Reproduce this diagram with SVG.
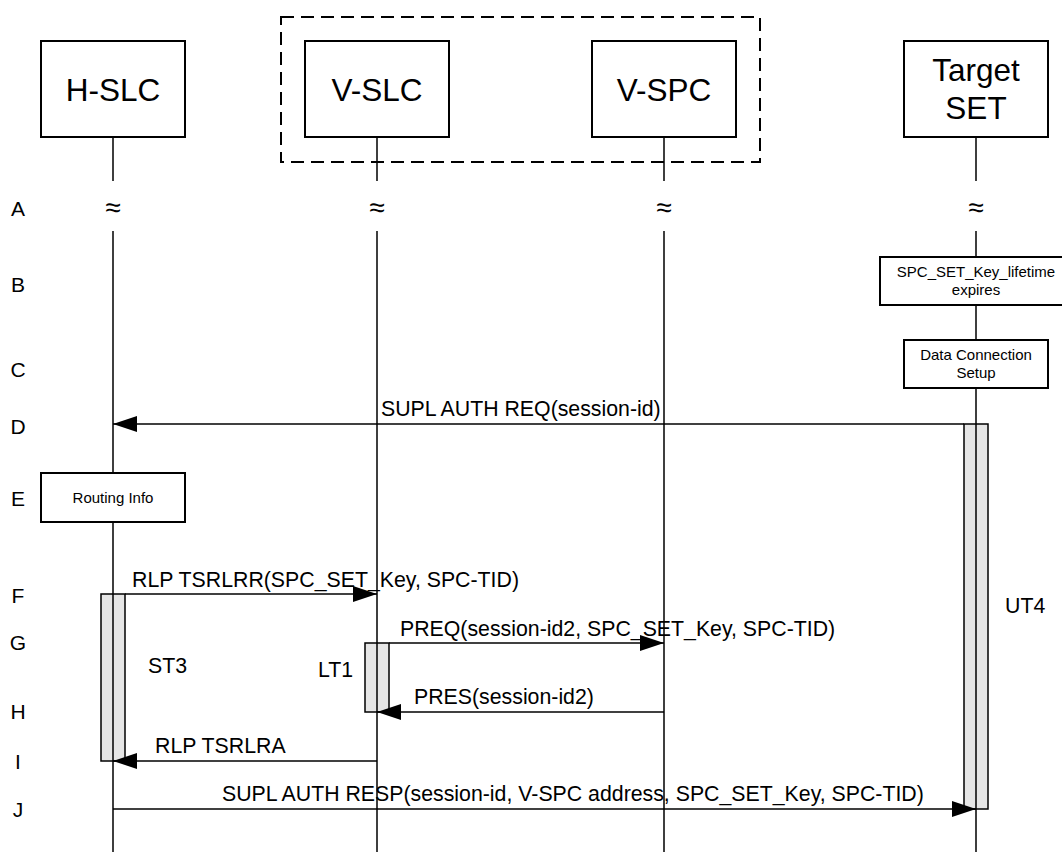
<svg xmlns="http://www.w3.org/2000/svg" width="1062" height="852" viewBox="0 0 1062 852">
<style>
text{font-family:"Liberation Sans",Arial,sans-serif;fill:#000}
.title{font-size:31.5px;text-anchor:middle}
.row{font-size:21px;text-anchor:middle}
.msg{font-size:21.3px}
.small{font-size:15px;text-anchor:middle}
.approx{font-size:28px;text-anchor:middle}
.box{fill:#fff;stroke:#000;stroke-width:2}
.life{stroke:#000;stroke-width:1.5;fill:none}
.bar{fill:#e6e6e6;stroke:#000;stroke-width:1.5}
.arrow{stroke:#000;stroke-width:1.5;fill:none;marker-end:url(#ah)}
</style>
<defs>
<marker id="ah" markerUnits="userSpaceOnUse" markerWidth="24" markerHeight="16" refX="24" refY="8" orient="auto">
<path d="M0,0 L24,8 L0,16 Z" fill="#000"/>
</marker>
</defs>
<rect width="1062" height="852" fill="#fff"/>
<rect x="281" y="17" width="479" height="145" fill="none" stroke="#000" stroke-width="2" stroke-dasharray="13 7"/>
<g id="lifelines">
<path class="life" d="M113,137 V181 M113,231 V473 M113,522 V852"/>
<path class="life" d="M377,137 V181 M377,231 V852"/>
<path class="life" d="M664,137 V181 M664,231 V852"/>
<path class="life" d="M976,137 V181 M976,231 V257 M976,305 V340 M976,388 V852"/>
</g>
<g id="node-hslc"><rect class="box" x="41" y="41" width="144" height="96"/><text class="title" x="113" y="101">H-SLC</text></g>
<g id="node-vslc"><rect class="box" x="305" y="41" width="144" height="96"/><text class="title" x="377" y="101">V-SLC</text></g>
<g id="node-vspc"><rect class="box" x="592" y="41" width="144" height="96"/><text class="title" x="664" y="101">V-SPC</text></g>
<g id="node-target"><rect class="box" x="904" y="41" width="144" height="96"/><text class="title" x="976" y="81">Target</text><text class="title" x="976" y="119">SET</text></g>
<g id="approx">
<text class="approx" x="113" y="217">≈</text>
<text class="approx" x="377" y="217">≈</text>
<text class="approx" x="664" y="217">≈</text>
<text class="approx" x="976" y="217">≈</text>
</g>
<g id="rows">
<text class="row" x="18" y="216">A</text>
<text class="row" x="18" y="292">B</text>
<text class="row" x="18" y="377">C</text>
<text class="row" x="18" y="434">D</text>
<text class="row" x="18" y="506">E</text>
<text class="row" x="18" y="603">F</text>
<text class="row" x="18" y="650">G</text>
<text class="row" x="18" y="719">H</text>
<text class="row" x="18" y="769">I</text>
<text class="row" x="18" y="817">J</text>
</g>
<g id="node-keyexpire"><rect class="box" x="880" y="257" width="192" height="48"/><text class="small" x="976" y="277">SPC_SET_Key_lifetime</text><text class="small" x="976" y="295">expires</text></g>
<g id="node-dataconn"><rect class="box" x="904" y="340" width="144" height="48"/><text class="small" x="976" y="360">Data Connection</text><text class="small" x="976" y="378">Setup</text></g>
<g id="node-routing"><rect class="box" x="41" y="473" width="144" height="49"/><text class="small" x="113" y="503">Routing Info</text></g>
<g id="bars">
<rect class="bar" x="964" y="424" width="24" height="385"/>
<rect class="bar" x="101" y="594" width="24" height="167"/>
<rect class="bar" x="365" y="643" width="24" height="69"/>
<path class="life" d="M976,424 V809 M113,594 V761 M377,643 V712"/>
</g>
<g id="connectors">
<line class="arrow" x1="964" y1="424" x2="113" y2="424"/>
<line class="arrow" x1="125" y1="594" x2="377" y2="594"/>
<line class="arrow" x1="389" y1="643" x2="664" y2="643"/>
<line class="arrow" x1="664" y1="712" x2="377" y2="712"/>
<line class="arrow" x1="377" y1="761" x2="113" y2="761"/>
<line class="arrow" x1="113" y1="809" x2="976" y2="809"/>
</g>
<g id="labels">
<text class="msg" x="381" y="416">SUPL AUTH REQ(session-id)</text>
<text class="msg" x="132" y="587">RLP TSRLRR(SPC_SET_Key, SPC-TID)</text>
<text class="msg" x="400" y="636">PREQ(session-id2, SPC_SET_Key, SPC-TID)</text>
<text class="msg" x="414" y="704">PRES(session-id2)</text>
<text class="msg" x="155" y="753">RLP TSRLRA</text>
<text class="msg" x="222" y="801">SUPL AUTH RESP(session-id, V-SPC address, SPC_SET_Key, SPC-TID)</text>
<text class="msg" x="148" y="673">ST3</text>
<text class="msg" x="318" y="677">LT1</text>
<text class="msg" x="1005" y="613">UT4</text>
</g>
</svg>
